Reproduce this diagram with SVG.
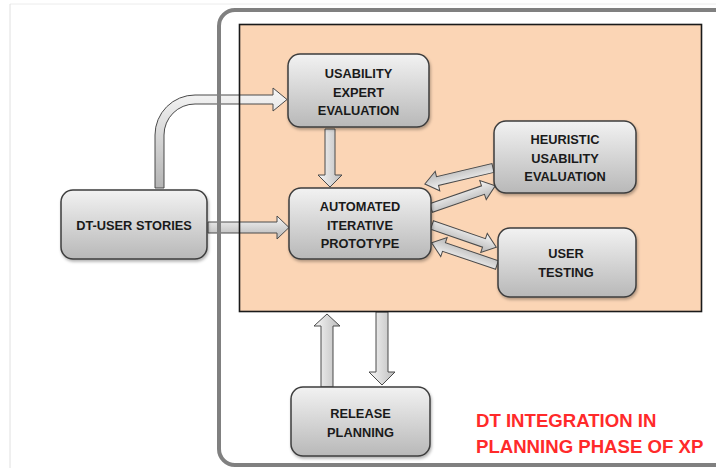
<svg xmlns="http://www.w3.org/2000/svg" width="716" height="468" viewBox="0 0 716 468">
<defs>
<linearGradient id="ng" x1="0" y1="0" x2="0" y2="1"><stop offset="0" stop-color="#f2f2f2"/><stop offset="1" stop-color="#b8b8b8"/></linearGradient>
<linearGradient id="ag" x1="0" y1="0" x2="0" y2="1"><stop offset="0" stop-color="#f7f7f7"/><stop offset="1" stop-color="#b4b4b4"/></linearGradient>
<linearGradient id="agh" x1="0" y1="0" x2="1" y2="0"><stop offset="0" stop-color="#f7f7f7"/><stop offset="1" stop-color="#bdbdbd"/></linearGradient>
<filter id="sh" x="-10%" y="-10%" width="130%" height="140%"><feDropShadow dx="1" dy="2" stdDeviation="1.5" flood-color="#000" flood-opacity="0.3"/></filter>
</defs>
<style>
.node rect{fill:url(#ng);stroke:#3c3c3c;stroke-width:1.5;filter:url(#sh)}
.node text{font-family:"Liberation Sans",Arial,sans-serif;font-weight:bold;font-size:12.8px;fill:#1a1a1a;text-anchor:middle}
.arr{fill:url(#ag);stroke:#4a4a4a;stroke-width:1}
.arrv{fill:url(#agh);stroke:#4a4a4a;stroke-width:1}
.title{font-family:"Liberation Sans",Arial,sans-serif;font-weight:bold;font-size:18.6px;fill:#ff2a2a}
</style>
<rect width="716" height="468" fill="#ffffff"/>
<line x1="10" y1="4" x2="716" y2="4" stroke="#ececec" stroke-width="1"/>
<line x1="10" y1="4" x2="10" y2="468" stroke="#e0e0e0" stroke-width="1"/>
<rect id="phase-fill" x="239.5" y="24.5" width="462" height="287" fill="#fbd5b5"/>
<g id="connectors">
<path class="arr" d="M155,188 L155,135 A40,40 0 0 1 195,95 L273,95 L273,88 L287,99.5 L273,111 L273,104 L195,104 A31,31 0 0 0 164,135 L164,188 Z"/>
<path class="arr" d="M208,222 L277,222 L277,216 L289,227.5 L277,239 L277,233 L208,233 Z"/>
<path class="arrv" d="M325,129 L335,129 L335,175 L342,175 L330,187 L318,175 L325,175 Z"/>
<path class="arrv" d="M321,387 L321,326 L314,326 L327,314 L340,326 L333,326 L333,387 Z"/>
<path class="arrv" d="M376,312 L388,312 L388,372 L395,372 L382,385 L369,372 L376,372 Z"/>
<path class="arr" transform="translate(493,168) rotate(166.8)" d="M0,-4.5 H57 V-10 L70,0 L57,10 V4.5 H0 Z"/>
<path class="arr" transform="translate(431,208) rotate(-19)" d="M0,-4.5 H55 V-10 L68,0 L55,10 V4.5 H0 Z"/>
<path class="arr" transform="translate(432,225) rotate(19)" d="M0,-4.5 H55 V-10 L68,0 L55,10 V4.5 H0 Z"/>
<path class="arr" transform="translate(497,265) rotate(-161.3)" d="M0,-4.5 H56 V-10 L69,0 L56,10 V4.5 H0 Z"/>
</g>
<rect id="frame" x="219" y="10" width="515" height="455" rx="16" fill="none" stroke="#808080" stroke-width="4"/>
<rect id="phase-border" x="239.5" y="24.5" width="462" height="287" fill="none" stroke="#1a1a1a" stroke-width="1.6"/>
<g id="usability-expert" class="node">
<rect x="288" y="54" width="141" height="73" rx="12"/>
<text x="358.5" y="78">USABILITY</text>
<text x="358.5" y="97">EXPERT</text>
<text x="358.5" y="115">EVALUATION</text>
</g>
<g id="automated-prototype" class="node">
<rect x="289" y="188" width="142" height="71" rx="12"/>
<text x="360" y="211">AUTOMATED</text>
<text x="360" y="229.5">ITERATIVE</text>
<text x="360" y="248">PROTOTYPE</text>
</g>
<g id="dt-user-stories" class="node">
<rect x="61" y="190" width="146" height="69" rx="12"/>
<text x="134" y="230">DT-USER STORIES</text>
</g>
<g id="heuristic-evaluation" class="node">
<rect x="494" y="121" width="142" height="72" rx="12"/>
<text x="565" y="144">HEURISTIC</text>
<text x="565" y="163">USABILITY</text>
<text x="565" y="181">EVALUATION</text>
</g>
<g id="user-testing" class="node">
<rect x="498" y="228" width="138" height="69" rx="12"/>
<text x="566" y="258">USER</text>
<text x="566" y="277">TESTING</text>
</g>
<g id="release-planning" class="node">
<rect x="291" y="387" width="139" height="69" rx="12"/>
<text x="360.5" y="418">RELEASE</text>
<text x="360.5" y="437">PLANNING</text>
</g>
<g id="caption">
<text class="title" x="476" y="427">DT INTEGRATION IN</text>
<text class="title" x="476" y="453">PLANNING PHASE OF XP</text>
</g>
</svg>
